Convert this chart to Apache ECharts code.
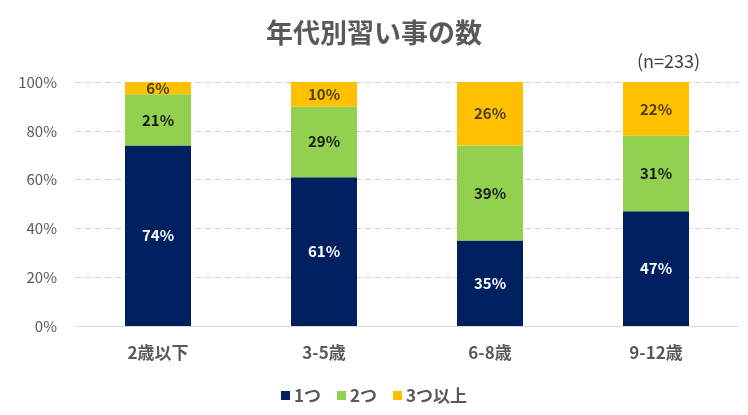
<!DOCTYPE html>
<html>
<head>
<meta charset="utf-8">
<script src="https://cdn.jsdelivr.net/npm/echarts@6/dist/echarts.min.js"></script>
<style>
  html, body { margin: 0; padding: 0; background: #fff; }
  #chart { width: 748px; height: 415px; }
</style>
</head>
<body>
<div id="chart"></div>
<script>
var categories = ["2歳以下", "3-5歳", "6-8歳", "9-12歳"];
var seriesNames = ["1つ", "2つ", "3つ以上"];
var one = [74, 61, 35, 47];
var two = [21, 29, 39, 31];
var threePlus = [6, 10, 26, 22];
var colors = ["#002060", "#92D050", "#FFC000"];
var labelColors = ["#ffffff", "#1a1a1a", "#4d4020"];

var font = "'Noto Sans CJK JP', 'Noto Sans', sans-serif";

function makeSeries(name, data, i) {
  return {
    name: name,
    type: "bar",
    stack: "total",
    barWidth: 66,
    clip: true,
    data: data,
    itemStyle: { color: colors[i] },
    label: {
      show: true,
      position: "inside",
      formatter: "{c}%",
      color: labelColors[i],
      fontFamily: font,
      fontWeight: "bold",
      fontSize: 15,
    },
  };
}

var chart = echarts.init(document.getElementById("chart"));
chart.setOption({
  animation: false,
  textStyle: { fontFamily: font },
  title: [
    {
      text: "年代別習い事の数",
      left: "center",
      top: 14,
      textStyle: { fontFamily: font, fontSize: 27, fontWeight: "bold", color: "#595959" },
    },
    {
      text: "(n=233)",
      left: 632,
      top: 47,
      textStyle: { fontFamily: font, fontSize: 18, fontWeight: "normal", color: "#404040" },
    },
  ],
  legend: {
    bottom: 6,
    left: "center",
    itemWidth: 9,
    itemHeight: 9,
    itemGap: 16,
    icon: "rect",
    textStyle: { fontFamily: font, fontSize: 17, fontWeight: "bold", color: "#595959", padding: [0, 0, 0, -1] },
    data: seriesNames,
  },
  grid: { left: 75, right: 9, top: 82, bottom: 89 },
  xAxis: {
    type: "category",
    data: categories,
    axisLine: { lineStyle: { color: "#d9d9d9", width: 1 } },
    axisTick: { show: false },
    axisLabel: { fontFamily: font, fontSize: 17, fontWeight: "bold", color: "#595959", margin: 18 },
  },
  yAxis: {
    type: "value",
    min: 0,
    max: 100,
    interval: 20,
    axisLine: { show: false },
    axisTick: { show: false },
    splitLine: { lineStyle: { color: "#d0d0d0", type: [6, 4] } },
    axisLabel: { fontFamily: font, fontSize: 15, color: "#595959", margin: 18, formatter: "{value}%" },
  },
  series: [
    makeSeries(seriesNames[0], one, 0),
    makeSeries(seriesNames[1], two, 1),
    makeSeries(seriesNames[2], threePlus, 2),
  ],
});
</script>
</body>
</html>
